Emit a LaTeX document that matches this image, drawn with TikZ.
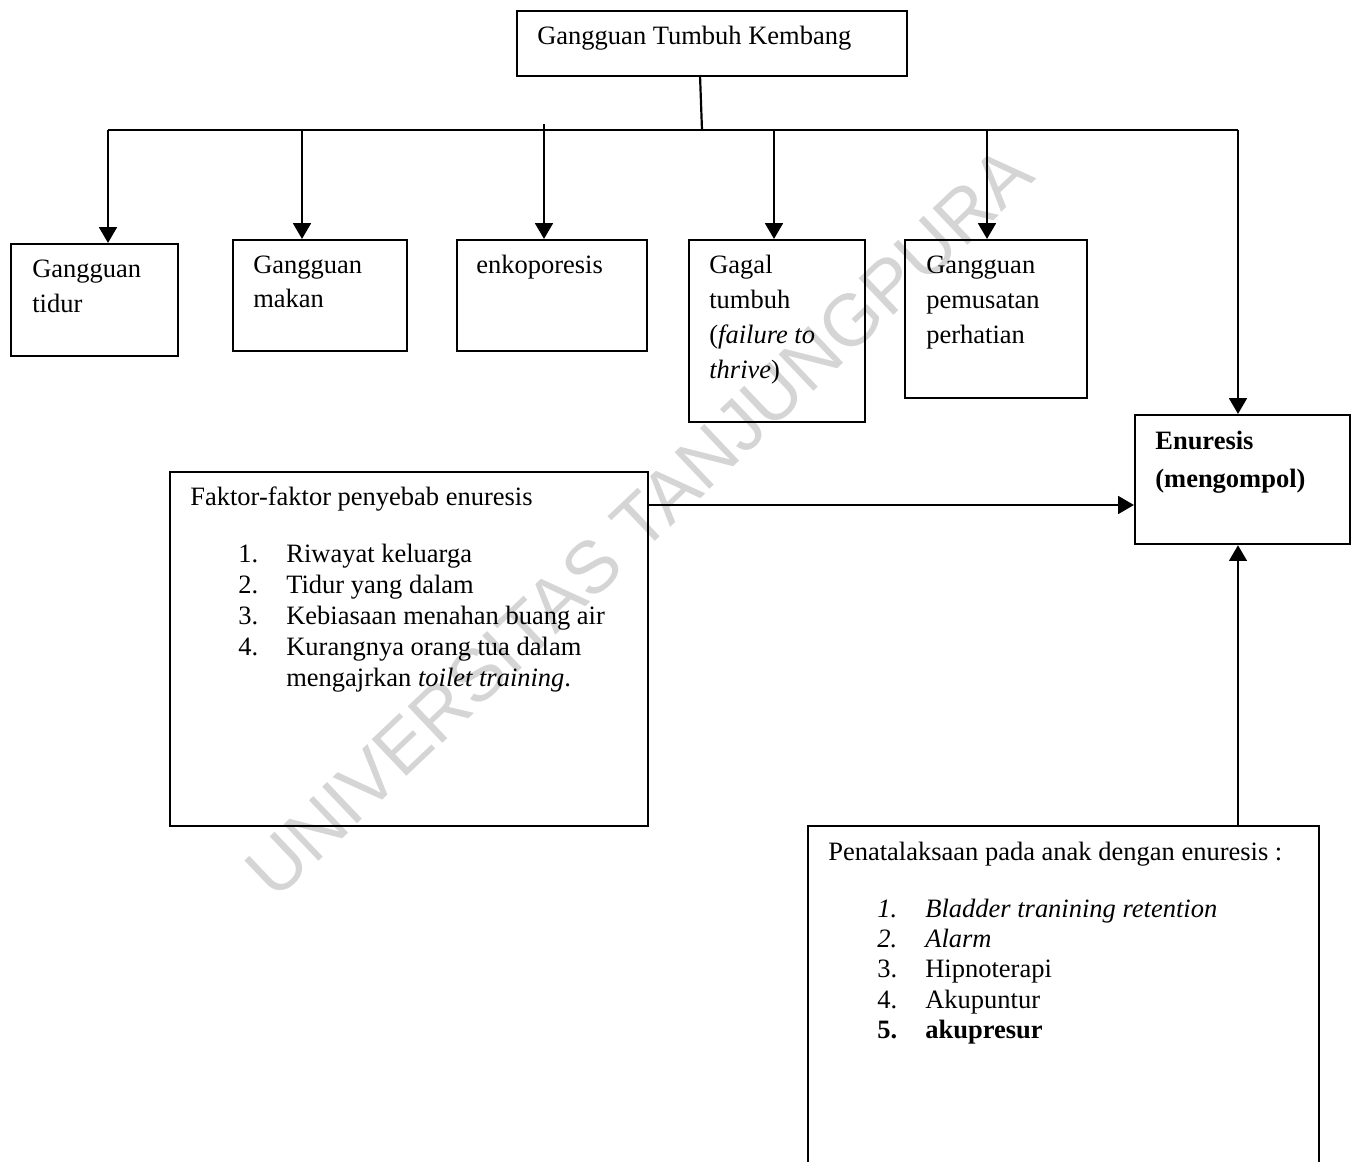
\documentclass[tikz,border=0pt]{standalone}
\usepackage{fontspec}
\setmainfont{Liberation Serif}
\newfontfamily\wmfont{Liberation Sans}
\usetikzlibrary{arrows.meta}
\newcommand\txtlines[2]{\parbox[t]{12cm}{\fontsize{15.08pt}{#1}\selectfont #2}}
\newcommand\itm[2]{\makebox[0.96cm][l]{#1}#2}
\begin{document}
\begin{tikzpicture}[x=0.02cm,y=-0.02cm,
  box/.style={draw,line width=1.25pt,rectangle,inner sep=0,anchor=north west},
  txt/.style={anchor=base west,inner sep=0},
  ln/.style={line width=1.6pt},
  arr/.style={line width=1.6pt,-{Triangle[length=9pt,width=10pt]}}]
\clip (0,0) rectangle (1357,1162);
% watermark
\node[rotate=43.5,text=gray!33,inner sep=0,font=\wmfont\fontsize{41.8pt}{50pt}\selectfont] (wm) at (639,522) {UNIVERSITAS TANJUNGPURA};
% boxes
\node[box,minimum width=7.8cm,minimum height=1.3cm] (top) at (516,10) {};
\node[box,minimum width=3.34cm,minimum height=2.24cm] (tidur) at (10,243) {};
\node[box,minimum width=3.48cm,minimum height=2.22cm] (makan) at (232,239) {};
\node[box,minimum width=3.8cm,minimum height=2.22cm] (enko) at (456,239) {};
\node[box,minimum width=3.52cm,minimum height=3.64cm] (gagal) at (688,239) {};
\node[box,minimum width=3.64cm,minimum height=3.16cm] (pemu) at (904,239) {};
\node[box,minimum width=4.3cm,minimum height=2.58cm] (enur) at (1134,414) {};
\node[box,minimum width=9.56cm,minimum height=7.08cm] (faktor) at (169,471) {};
\node[box,minimum width=10.22cm,minimum height=7.6cm] (pena) at (807,825) {};
% texts
\node[txt] (ttop) at (537,45) {\txtlines{20pt}{Gangguan Tumbuh Kembang}};
\node[txt] (ttidur) at (32,278) {\txtlines{19.4pt}{Gangguan\\tidur}};
\node[txt] (tmakan) at (253,274) {\txtlines{19pt}{Gangguan\\makan}};
\node[txt] (tenko) at (476,274) {\txtlines{19pt}{enkoporesis}};
\node[txt] (tgagal) at (709,274) {\txtlines{19.9pt}{Gagal\\tumbuh\\(\textit{failure to}\\\textit{thrive})}};
\node[txt] (tpemu) at (926,274) {\txtlines{19.9pt}{Gangguan\\pemusatan\\perhatian}};
\node[txt] (tenur) at (1155,450) {\txtlines{21.3pt}{\bfseries Enuresis\\(mengompol)}};
\node[txt] (tfak) at (190,505) {\txtlines{20pt}{Faktor-faktor penyebab enuresis}};
\node[txt] (tfaklist) at (238,562) {\txtlines{17.65pt}{%
  \itm{1.}{Riwayat keluarga}\\
  \itm{2.}{Tidur yang dalam}\\
  \itm{3.}{Kebiasaan menahan buang air}\\
  \itm{4.}{Kurangnya orang tua dalam}\\
  \itm{}{mengajrkan \textit{toilet training}.}}};
\node[txt] (tpena) at (828,860) {\txtlines{20pt}{Penatalaksaan pada anak dengan enuresis :}};
\node[txt] (tpenalist) at (877,917) {\txtlines{17.35pt}{%
  \itm{\textit{1.}}{\textit{Bladder tranining retention}}\\
  \itm{\textit{2.}}{\textit{Alarm}}\\
  \itm{3.}{Hipnoterapi}\\
  \itm{4.}{Akupuntur}\\
  \itm{\textbf{5.}}{\textbf{akupresur}}}};
% connector points
\coordinate (t0) at (700,75);
\coordinate (b0) at (702,130);
\coordinate (b1) at (108,130);
\coordinate (b2) at (302,130);
\coordinate (b3) at (544,124);
\coordinate (b4) at (774,130);
\coordinate (b5) at (987,130);
\coordinate (b6) at (1238,130);
\coordinate (f0) at (647,505);
\coordinate (p0) at (1238,825);
% connectors
\draw[line width=1.25pt] (t0) -- (b0);
\draw[ln] (b1) -- (b6);
\draw[arr] (b1) -- (b1 |- tidur.north);
\draw[arr] (b2) -- (b2 |- makan.north);
\draw[arr] (b3) -- (b3 |- enko.north);
\draw[arr] (b4) -- (b4 |- gagal.north);
\draw[arr] (b5) -- (b5 |- pemu.north);
\draw[arr] (b6) -- (b6 |- enur.north);
\draw[arr] (f0) -- (f0 -| enur.west);
\draw[arr] (p0) -- (p0 |- enur.south);
\end{tikzpicture}
\end{document}
